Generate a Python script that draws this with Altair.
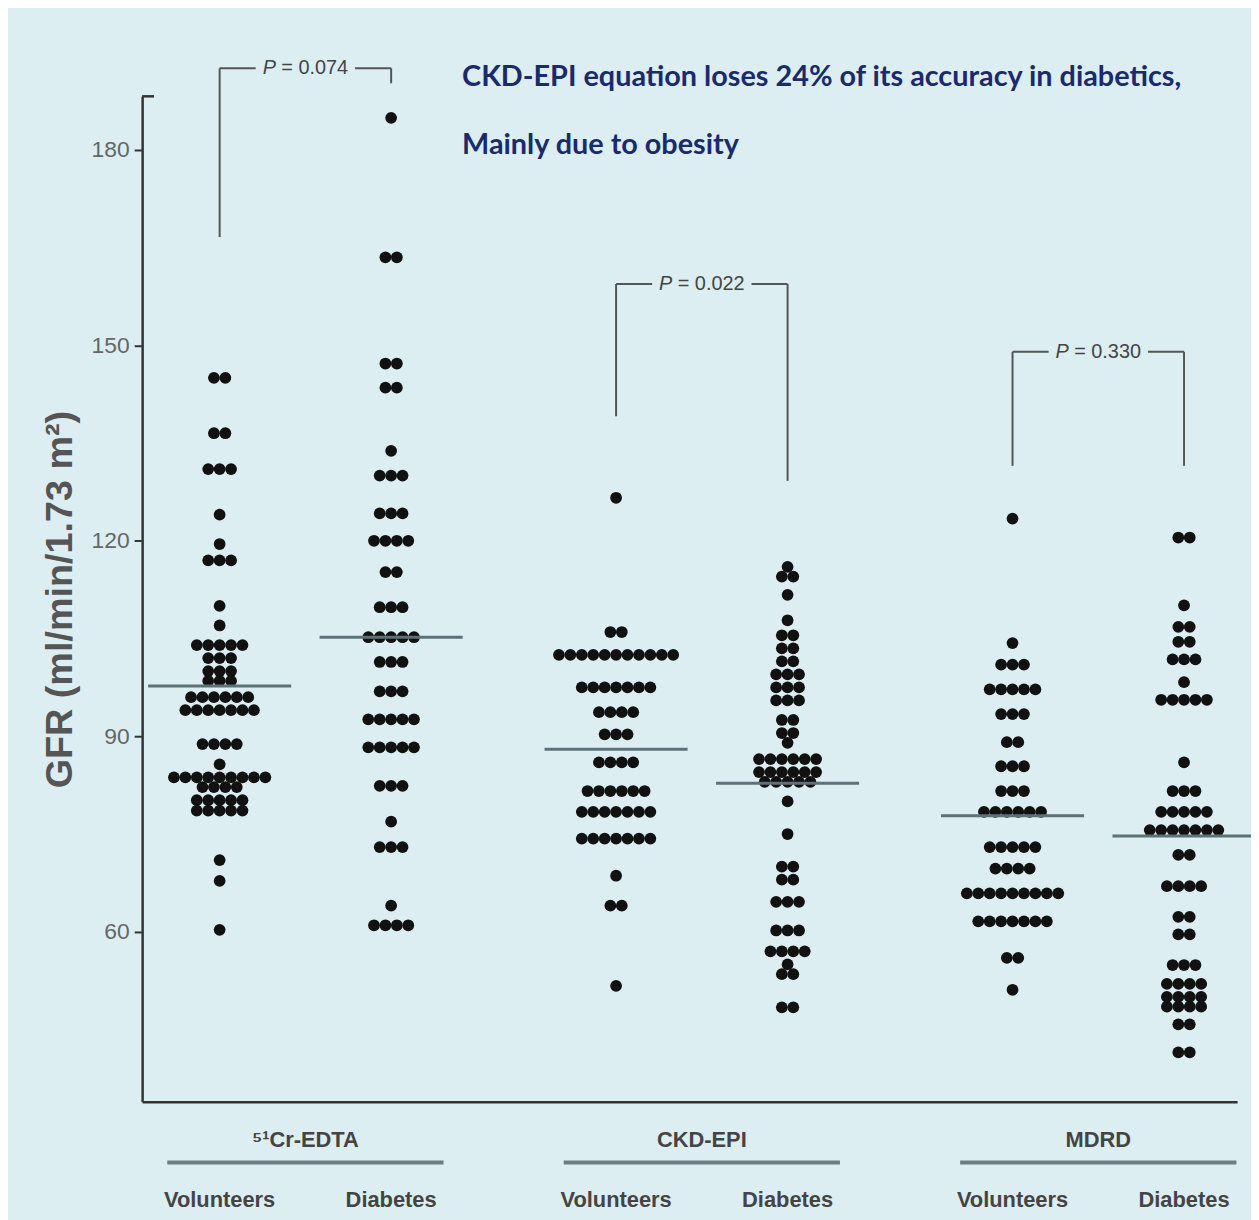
import altair as alt
import pandas as pd

# ---------------- data ----------------
METHODS = ["⁵¹Cr-EDTA", "CKD-EPI", "MDRD"]
COHORTS = ["Volunteers", "Diabetes"]

CR_VOL_GFR = [145, 136.5, 131, 124, 119.5, 117, 110, 107, 104, 102, 100, 98.5,
              96, 94, 88.8, 85.7, 83.7, 82.2, 80.2, 78.6, 71, 67.8, 60.3]
CR_VOL_N = [2, 2, 3, 1, 1, 3, 1, 1, 5, 3, 3, 3, 6, 7, 4, 1, 9, 4, 5, 5, 1, 1, 1]

CR_DIA_GFR = [184.9, 163.5, 147.2, 143.5, 133.8, 130, 124.2, 120, 115.2, 109.8,
              105.2, 101.4, 96.9, 92.6, 88.3, 82.4, 76.9, 73, 64, 61]
CR_DIA_N = [1, 2, 2, 2, 1, 3, 3, 4, 2, 3, 5, 3, 3, 5, 5, 3, 1, 3, 1, 4]

CKD_VOL_GFR = [126.6, 106, 102.5, 97.5, 93.7, 90.3, 86, 81.6, 78.4, 74.3, 68.6, 64, 51.7]
CKD_VOL_N = [1, 2, 11, 7, 4, 3, 4, 6, 7, 7, 1, 2, 1]

CKD_DIA_GFR = [116, 114.5, 111.7, 107.8, 105.5, 103.5, 101.5, 99.5, 97.5, 95.5,
               92.5, 90.5, 89, 86.5, 84.5, 83, 80, 75, 70, 68,
               64.6, 60.2, 57, 55, 53.5, 48.4]
CKD_DIA_N = [1, 2, 1, 1, 2, 2, 2, 3, 3, 3,
             2, 2, 1, 6, 6, 5, 1, 1, 2, 2,
             3, 3, 4, 1, 2, 2]

MDRD_VOL_GFR = [123.4, 104.3, 101, 97.2, 93.4, 89.1, 85.4, 81.6, 78.4, 73,
                69.7, 65.9, 61.6, 56, 51.1]
MDRD_VOL_N = [1, 1, 3, 5, 3, 2, 3, 3, 6, 5, 4, 9, 7, 2, 1]

MDRD_DIA_GFR = [120.5, 110.1, 106.8, 104.5, 101.8, 98.3, 95.6, 86, 81.6, 78.4,
                75.6, 71.8, 67, 62.3, 59.6, 54.9, 52, 50, 48.5, 45.8, 41.5]
MDRD_DIA_N = [2, 1, 2, 2, 3, 1, 5, 1, 3, 5, 7, 2, 4, 2, 2, 3, 4, 4, 4, 2, 2]

GROUP_MEANS = [97.7, 105.2, 88.0, 82.8, 77.8, 74.7]

P_VALUES = ["0.074", "0.022", "0.330"]
P_TOP = [192.5, 159.4, 149.0]
P_LEFT_END = [166.6, 139.1, 131.5]
P_RIGHT_END = [190.2, 129.2, 131.5]

Y_TICKS = [60, 90, 120, 150, 180]
TITLE_LINES = ["CKD-EPI equation loses 24% of its accuracy in diabetics,",
               "Mainly due to obesity"]
Y_TITLE = "GFR (ml/min/1.73 m²)"

# ---------------- layout constants (scale units) ----------------
X_MAX = 11.02
Y_MIN, Y_MAX = 33.9, 188.2
C0, STEP, HALF, DOT = 1.643, 3.99, 0.863, 0.115
MEAN_HALF = 0.72
GAP = 0.5
UL_HALF = 1.39
Y_METHOD_LABEL = 28.1
Y_UNDERLINE = 24.6
Y_COHORT_LABEL = 18.9

SANS = "Liberation Sans, Arial, sans-serif"
BG = "#dceef2"

groups = [
    (0, 0, CR_VOL_GFR, CR_VOL_N), (0, 1, CR_DIA_GFR, CR_DIA_N),
    (1, 0, CKD_VOL_GFR, CKD_VOL_N), (1, 1, CKD_DIA_GFR, CKD_DIA_N),
    (2, 0, MDRD_VOL_GFR, MDRD_VOL_N), (2, 1, MDRD_DIA_GFR, MDRD_DIA_N),
]
rows = []
for m, c, vals, ns in groups:
    for v, n in zip(vals, ns):
        for k in range(n):
            rows.append({"m": m, "c": c, "gfr": v, "slot": k - (n - 1) / 2})
dots_df = pd.DataFrame(rows)

means_df = pd.DataFrame({"m": [0, 0, 1, 1, 2, 2], "c": [0, 1] * 3, "mean": GROUP_MEANS})
p_df = pd.DataFrame({"m": [0, 1, 2], "pval": P_VALUES, "top": P_TOP,
                     "lb": P_LEFT_END, "rb": P_RIGHT_END})
cohort_df = pd.DataFrame({"m": [0, 0, 1, 1, 2, 2], "c": [0, 1] * 3,
                          "label": COHORTS * 3})
method_df = pd.DataFrame({"m": [0, 1, 2], "label": METHODS})
top_df = pd.DataFrame({"y": [Y_MAX]})

CENTER = f"({C0} + {STEP} * datum.m)"
SIDE = f"({CENTER} + (2 * datum.c - 1) * {HALF})"

xs = alt.Scale(domain=[0, X_MAX], nice=False, zero=False)
ys = alt.Scale(domain=[Y_MIN, Y_MAX], nice=False, zero=False)

X_AXIS = alt.Axis(labels=False, ticks=False, grid=False, title=None,
                  domainColor="#333333", domainWidth=2.5)
Y_AXIS = alt.Axis(values=Y_TICKS, grid=False, title=Y_TITLE,
                  domainColor="#333333", domainWidth=2.5,
                  tickColor="#333333", tickWidth=2, tickSize=8,
                  labelFont=SANS, labelFontSize=23, labelColor="#666666",
                  labelPadding=5,
                  titleFont=SANS, titleFontSize=38, titleFontWeight="bold",
                  titleColor="#555555", titlePadding=12)


def X(field):
    return alt.X(field, scale=xs, axis=X_AXIS, title=None)


def Y(field):
    return alt.Y(field, scale=ys, axis=Y_AXIS, title=Y_TITLE)


dots = alt.Chart(dots_df).transform_calculate(
    xpos=f"{SIDE} + {DOT} * datum.slot"
).mark_circle(size=140, color="#111111", opacity=1).encode(
    x=X("xpos:Q"), y=Y("gfr:Q"),
)

means = alt.Chart(means_df).transform_calculate(
    xl=f"{SIDE} - {MEAN_HALF}", xr=f"{SIDE} + {MEAN_HALF}"
).mark_rule(color="#5d7277", strokeWidth=3).encode(
    x=X("xl:Q"), x2="xr:Q", y=Y("mean:Q"),
)

pb = alt.Chart(p_df).transform_calculate(
    xl=f"{CENTER} - {HALF}", xr=f"{CENTER} + {HALF}", xc=CENTER,
    gl=f"{CENTER} - {GAP}", gr=f"{CENTER} + {GAP}",
    ptext="'= ' + datum.pval",
)
BR = dict(color="#555555", strokeWidth=2)
br_left = pb.mark_rule(**BR).encode(x=X("xl:Q"), y=Y("lb:Q"), y2="top:Q")
br_right = pb.mark_rule(**BR).encode(x=X("xr:Q"), y=Y("rb:Q"), y2="top:Q")
br_hl = pb.mark_rule(**BR).encode(x=X("xl:Q"), x2="gl:Q", y=Y("top:Q"))
br_hr = pb.mark_rule(**BR).encode(x=X("gr:Q"), x2="xr:Q", y=Y("top:Q"))
br_p = pb.mark_text(font=SANS, fontSize=20, fontStyle="italic", color="#444444",
                    align="left", baseline="middle", dx=-43, text="P").encode(
    x=X("xc:Q"), y=Y("top:Q"))
br_val = pb.mark_text(font=SANS, fontSize=20, color="#444444",
                      align="right", baseline="middle", dx=43).encode(
    x=X("xc:Q"), y=Y("top:Q"), text="ptext:N")

top_tick = alt.Chart(top_df).mark_rule(color="#333333", strokeWidth=2.5).encode(
    x=alt.datum(0), x2=alt.datum(0.12), y=Y("y:Q"))

cohort_text = alt.Chart(cohort_df).transform_calculate(
    xpos=SIDE, ypos=f"{Y_COHORT_LABEL}"
).mark_text(font=SANS, fontSize=22, fontWeight="bold", color="#444444",
            align="center", baseline="middle").encode(
    x=X("xpos:Q"), y=Y("ypos:Q"), text="label:N")

method_text = alt.Chart(method_df).transform_calculate(
    xpos=CENTER, ypos=f"{Y_METHOD_LABEL}"
).mark_text(font=SANS, fontSize=22, fontWeight="bold", color="#444444",
            align="center", baseline="middle").encode(
    x=X("xpos:Q"), y=Y("ypos:Q"), text="label:N")

underline = alt.Chart(method_df).transform_calculate(
    xl=f"{CENTER} - {UL_HALF}", xr=f"{CENTER} + {UL_HALF}",
    ypos=f"{Y_UNDERLINE}"
).mark_rule(color="#6b7e82", strokeWidth=4).encode(
    x=X("xl:Q"), x2="xr:Q", y=Y("ypos:Q"))

chart = alt.layer(
    dots, means, br_left, br_right, br_hl, br_hr, br_p, br_val, top_tick,
    cohort_text, method_text, underline,
).properties(
    width=1102, height=1012,
    autosize=alt.AutoSizeParams(type="none"),
    padding={"left": 135, "top": 85, "right": 14, "bottom": 115},
    background=BG,
    title=alt.TitleParams(
        text=TITLE_LINES, anchor="start", frame="group", dx=322, dy=112,
        font="Lato, Open Sans, sans-serif", fontSize=29, fontWeight="bold",
        color="#1a2a6c", lineHeight=68, offset=10),
).configure_view(stroke=None)

chart.save("out.html", embed_options={"renderer": "svg", "actions": False})
